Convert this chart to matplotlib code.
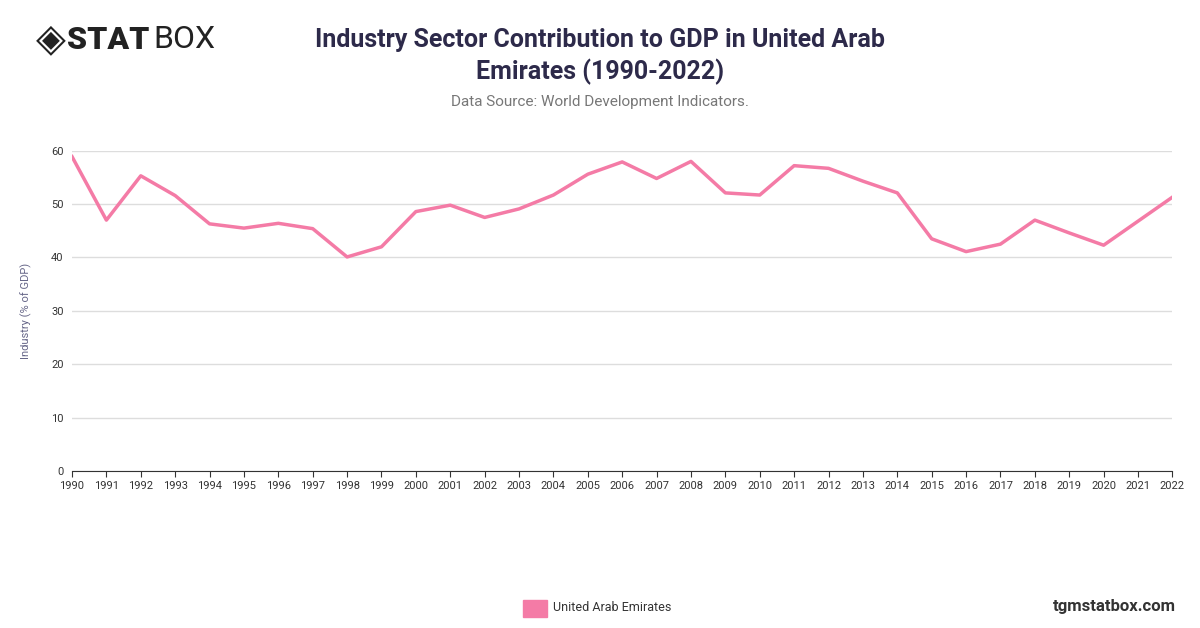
import matplotlib.pyplot as plt

years = list(range(1990, 2023))
values = [58.9, 47.0, 55.3, 51.6, 46.3, 45.5, 46.4, 45.4, 40.1, 42.0, 48.6, 49.8, 47.5, 49.1,
          51.7, 55.6, 57.9, 54.8, 58.0, 52.1, 51.7, 57.2, 56.7, 54.3, 52.1, 43.5, 41.1, 42.5,
          47.0, 44.6, 42.3, 46.8, 51.3]
yticks = [0, 10, 20, 30, 40, 50, 60]
color = '#f47ba6'

plt.rcParams['font.family'] = ['Roboto', 'DejaVu Sans']
fig = plt.figure(figsize=(12, 6.28), dpi=100)
ax = fig.add_axes([0.06, 0.25, 0.917, 0.51])
ax.plot(years, values, color=color, lw=2.5)
ax.set_xlim(1990, 2022)
ax.set_ylim(0, 60)
ax.set_xticks(years)
ax.set_xticklabels([str(y) for y in years], fontsize=8, color='#333333')
ax.set_yticks(yticks)
ax.set_yticklabels([str(v) for v in yticks], fontsize=8, color='#333333')
ax.grid(axis='y', color='#dddddd', lw=1)
ax.tick_params(length=0, pad=6)
ax.tick_params(axis='x', length=4, color='#333333', pad=3)
for s in ['top', 'right', 'left']:
    ax.spines[s].set_visible(False)
ax.spines['bottom'].set_color('#333333')
ax.set_ylabel('Industry (% of GDP)', fontsize=8, color='#666688', labelpad=14)

fig.text(0.5, 0.91, 'Industry Sector Contribution to GDP in United Arab\nEmirates (1990-2022)',
         ha='center', va='center', fontsize=18, fontweight='bold', color='#2d2a4a', linespacing=1.3)
fig.text(0.5, 0.837, 'Data Source: World Development Indicators.', ha='center', va='center',
         fontsize=11, color='#777777')
fig.text(0.042, 0.937, '◈', fontsize=28, color='#222222', ha='center', va='center')
fig.text(0.056, 0.937, 'STAT', fontsize=23, fontweight='black', color='#222222', va='center')
fig.text(0.128, 0.937, 'BOX', fontsize=23, color='#222222', va='center')
fig.text(0.98, 0.035, 'tgmstatbox.com', ha='right', va='center', fontsize=12, fontweight='bold', color='#333333')
fig.patches.append(plt.Rectangle((0.436, 0.018), 0.02, 0.027, transform=fig.transFigure,
                                 color=color, figure=fig))
fig.text(0.461, 0.032, 'United Arab Emirates', fontsize=9, color='#333333', va='center')
fig.savefig('out.png')
